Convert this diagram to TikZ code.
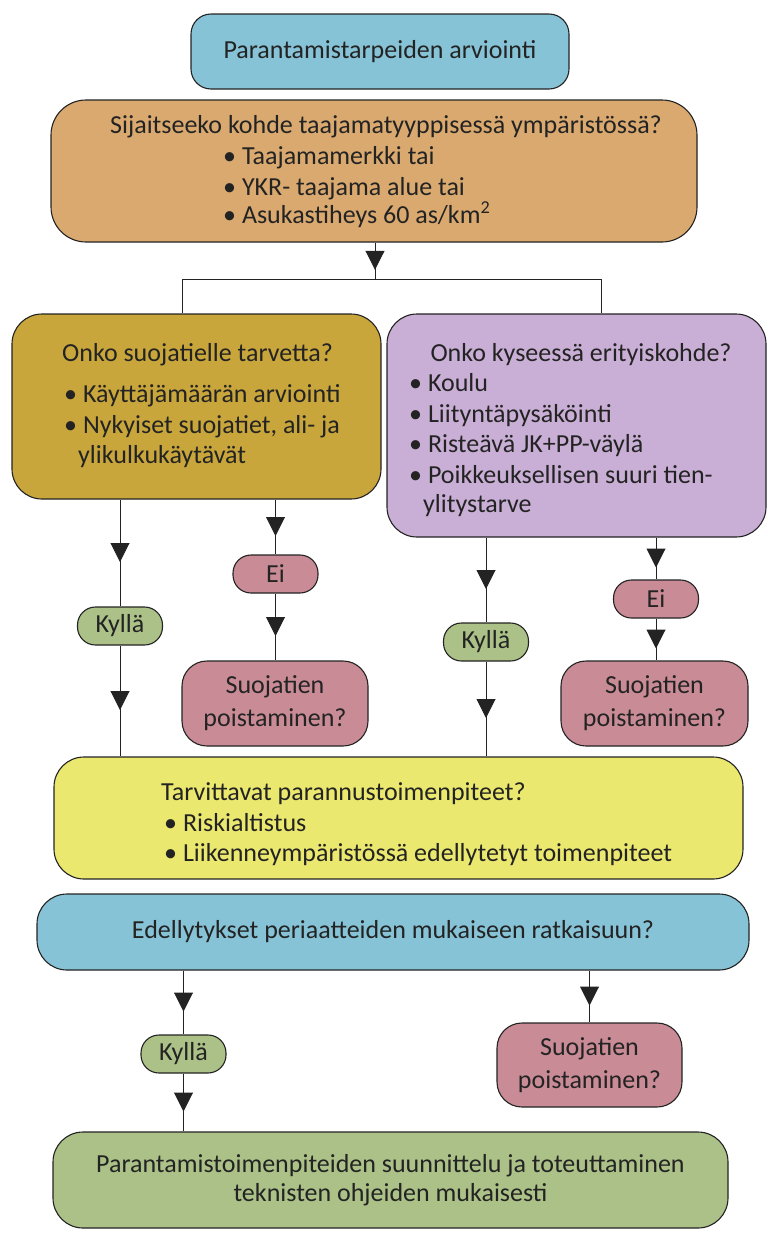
\documentclass[tikz,border=0pt]{standalone}
\usepackage{fontspec}
\setmainfont{Carlito}
\usetikzlibrary{positioning}
\usetikzlibrary{arrows.meta}
\usetikzlibrary{decorations.markings}

\definecolor{boxblue}{RGB}{135,195,214}
\definecolor{boxtan}{RGB}{217,169,111}
\definecolor{boxolive}{RGB}{201,166,59}
\definecolor{boxlilac}{RGB}{201,175,213}
\definecolor{boxrose}{RGB}{201,139,149}
\definecolor{boxgreen}{RGB}{171,193,135}
\definecolor{boxyellow}{RGB}{235,232,111}
\definecolor{inkgray}{RGB}{35,35,35}

\begin{document}
\begin{tikzpicture}[x=1pt, y=-1pt,
  every node/.style={font=\fontsize{26}{31}\selectfont},
  box/.style={draw=inkgray, line width=1.1pt, inner sep=0pt, align=center, text=inkgray},
  pill/.style={box, rounded corners=18pt, minimum height=38pt, minimum width=85pt},
  txt/.style={inner sep=0pt, anchor=base west, text=inkgray},
  link/.style={draw=inkgray, line width=1pt},
  midarrow/.style={link, postaction={decorate},
    decoration={markings, mark=at position 0.5 with {\arrow[xshift=9pt]{Triangle[length=19pt,width=19pt]}}}}
]
\useasboundingbox (0,0) rectangle (768,1240);

% boxes
\node[box, fill=boxblue, rounded corners=20pt, minimum width=378pt, minimum height=75pt] (start) at (380,51.5) {Parantamistarpeiden arviointi};
\node[box, fill=boxtan, rounded corners=35pt, minimum width=646pt, minimum height=142pt] (site) at (374,171) {};
\node[box, fill=boxolive, rounded corners=30pt, minimum width=369pt, minimum height=185pt] (need) at (196.5,406.5) {};
\node[box, fill=boxlilac, rounded corners=30pt, minimum width=379pt, minimum height=223pt] (special) at (576.5,425.5) {};
\node[box, fill=boxyellow, rounded corners=30pt, minimum width=689pt, minimum height=122pt] (measures) at (398.5,818) {};
\node[box, fill=boxblue, rounded corners=30pt, minimum width=712pt, minimum height=76pt] (terms) at (393,932) {Edellytykset periaatteiden mukaiseen ratkaisuun?};
\node[box, fill=boxgreen, rounded corners=30pt, minimum width=675pt, minimum height=96pt,
  font=\fontsize{26}{29}\selectfont] (design) at (390.5,1180) {Parantamistoimenpiteiden suunnittelu ja toteuttaminen\\teknisten ohjeiden mukaisesti};

% texts in boxes
\node[inner sep=0pt, text=inkgray] (siteq) at (386,127) {Sijaitseeko kohde taajamatyyppisessä ympäristössä?};
\node[txt] (site1) at (223,164) {\textbullet\ Taajamamerkki tai};
\node[txt] (site2) at (223,195) {\textbullet\ YKR- taajama alue tai};
\node[txt] (site3) at (223,223) {\textbullet\ Asukastiheys 60 as/km\textsuperscript{2}};

\node[inner sep=0pt, text=inkgray] (needq) at (197.5,355) {Onko suojatielle tarvetta?};
\node[txt] (need1) at (64,402) {\textbullet\ Käyttäjämäärän arviointi};
\node[txt] (need2) at (64,433) {\textbullet\ Nykyiset suojatiet, ali- ja};
\node[txt] (need3) at (78,463) {ylikulkukäytävät};

\node[inner sep=0pt, text=inkgray] (specialq) at (581,355) {Onko kyseessä erityiskohde?};
\node[txt] (special1) at (409,391) {\textbullet\ Koulu};
\node[txt] (special2) at (409,422) {\textbullet\ Liityntäpysäköinti};
\node[txt] (special3) at (409,452) {\textbullet\ Risteävä JK+PP-väylä};
\node[txt] (special4) at (409,483) {\textbullet\ Poikkeuksellisen suuri tien-};
\node[txt] (special5) at (423,512) {ylitystarve};

\node[txt] (measuresq) at (161,800) {Tarvittavat parannustoimenpiteet?};
\node[txt] (measures1) at (164,831) {\textbullet\ Riskialtistus};
\node[txt] (measures2) at (164,861) {\textbullet\ Liikenneympäristössä edellytetyt toimenpiteet};

% answers
\node[pill, fill=boxgreen] (yesA) at (120,626) {Kyllä};
\node[pill, fill=boxrose] (noA) at (275.5,574) {Ei};
\node[pill, fill=boxgreen] (yesB) at (486,642) {Kyllä};
\node[pill, fill=boxrose] (noB) at (656,599) {Ei};
\node[pill, fill=boxgreen] (yesC) at (183.5,1054) {Kyllä};

\node[box, fill=boxrose, rounded corners=25pt, minimum width=186pt, minimum height=85pt,
  font=\fontsize{26}{33}\selectfont] (removeA) at (275,703.5) {Suojatien\\poistaminen?};
\node[box, fill=boxrose, rounded corners=25pt, minimum width=187pt, minimum height=85pt,
  font=\fontsize{26}{33}\selectfont] (removeB) at (654.5,703.5) {Suojatien\\poistaminen?};
\node[box, fill=boxrose, rounded corners=25pt, minimum width=185pt, minimum height=84pt,
  font=\fontsize{26}{33}\selectfont] (removeC) at (589.5,1065) {Suojatien\\poistaminen?};

% connectors
\coordinate (split) at (375,279);
\coordinate (splitL) at (182,279);
\coordinate (splitR) at (601,279);
\draw[midarrow] (split |- site.south) -- (split);
\draw[link] (splitL) -- (splitR);
\draw[link] (splitL) -- (splitL |- need.north);
\draw[link] (splitR) -- (splitR |- special.north);

\draw[midarrow] (yesA |- need.south) -- (yesA.north);
\draw[midarrow] (yesA.south) -- (yesA |- measures.north);
\draw[midarrow] (noA |- need.south) -- (noA.north);
\draw[midarrow] (noA.south) -- (noA |- removeA.north);

\draw[midarrow] (yesB |- special.south) -- (yesB.north);
\draw[midarrow] (yesB.south) -- (yesB |- measures.north);
\draw[midarrow] (noB |- special.south) -- (noB.north);
\draw[midarrow] (noB.south) -- (noB |- removeB.north);

\draw[midarrow] (yesC |- terms.south) -- (yesC.north);
\draw[midarrow] (yesC.south) -- (yesC |- design.north);
\draw[midarrow] (removeC |- terms.south) -- (removeC.north);
\end{tikzpicture}
\end{document}
